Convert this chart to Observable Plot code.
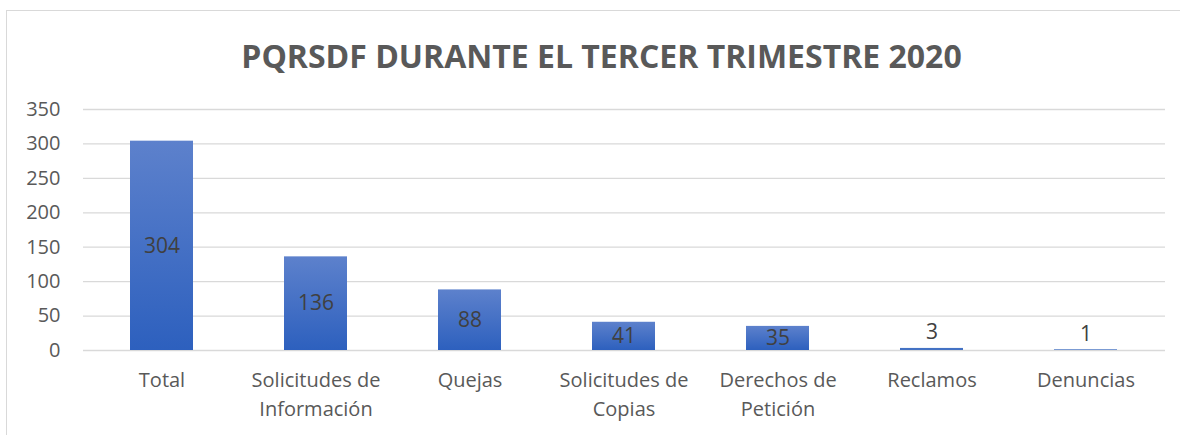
<!DOCTYPE html>
<html>
<head>
<meta charset="utf-8">
<script src="https://cdn.jsdelivr.net/npm/d3@7"></script>
<script src="https://cdn.jsdelivr.net/npm/@observablehq/plot@0.6"></script>
<style>
  html, body { margin: 0; padding: 0; background: #fff; }
  #wrap { position: relative; width: 1180px; height: 435px; overflow: hidden; font-family: "Open Sans", sans-serif; }
  #frame { position: absolute; left: 6px; top: 10px; width: 1200px; height: 500px; border-left: 1.5px solid #d9d9d9; border-top: 1.5px solid #d9d9d9; }
  #title { position: absolute; left: 0; top: 0; width: 1203px; height: 90px; line-height: 112px; text-align: center; font-size: 32px; font-weight: 700; color: #595959; }
  #chart { position: absolute; left: 0; top: 90px; }
</style>
</head>
<body>
<div id="wrap">
  <div id="frame"></div>
  <div id="title">PQRSDF DURANTE EL TERCER TRIMESTRE 2020</div>
  <div id="chart"></div>
</div>
<script>
const categories = ["Total", "Solicitudes de Información", "Quejas", "Solicitudes de Copias", "Derechos de Petición", "Reclamos", "Denuncias"];
const tickLabels = ["Total", "Solicitudes de\nInformación", "Quejas", "Solicitudes de\nCopias", "Derechos de\nPetición", "Reclamos", "Denuncias"];
const values = [304, 136, 88, 41, 35, 3, 1];
const yTicks = [0, 50, 100, 150, 200, 250, 300, 350];

const data = categories.map((c, i) => ({cat: c, label: tickLabels[i], value: values[i]}));
const labelOf = new Map(data.map(d => [d.cat, d.label]));

const defs = () => {
  const d = d3.create("svg:defs");
  const g = d.append("linearGradient").attr("id", "barGrad").attr("x1", 0).attr("y1", 0).attr("x2", 0).attr("y2", 1);
  g.append("stop").attr("offset", "0%").attr("stop-color", "#5d81cc");
  g.append("stop").attr("offset", "100%").attr("stop-color", "#2d60be");
  const f = d.append("filter").attr("id", "shadow").attr("x", "-20%").attr("y", "-20%").attr("width", "140%").attr("height", "140%");
  f.append("feDropShadow").attr("dx", 1.5).attr("dy", 1.5).attr("stdDeviation", 1.5).attr("flood-color", "#000").attr("flood-opacity", 0.25);
  return d.node();
};

const chart = Plot.plot({
  width: 1180,
  height: 345,
  marginTop: 19,
  marginBottom: 85,
  marginLeft: 83,
  marginRight: 15,
  style: {fontFamily: "'Open Sans', sans-serif", color: "#595959", background: "transparent", overflow: "visible"},
  x: {domain: categories, paddingInner: 0.59, paddingOuter: 0.295, align: 0.5},
  y: {domain: [0, 350], ticks: yTicks},
  marks: [
    defs,
    Plot.gridY(yTicks, {stroke: "#d9d9d9", strokeOpacity: 1, strokeWidth: 1.3}),
    Plot.axisY(yTicks, {tickSize: 0, tickPadding: 23, fontSize: 20, label: null, fill: "#595959"}),
    Plot.axisX({tickSize: 0, tickPadding: 16, fontSize: 20, lineHeight: 1.45, label: null, fill: "#595959", tickFormat: d => labelOf.get(d)}),
    Plot.barY(data, {x: "cat", y: "value", fill: "url(#barGrad)", filter: d => d.value >= 5, style: "filter: url(#shadow)"}),
    Plot.barY(data, {x: "cat", y: "value", fill: "#4472c4", filter: d => d.value < 5}),
    Plot.text(data.filter(d => d.value >= 20), {x: "cat", y: d => d.value / 2, text: d => String(d.value), fontSize: 21, fill: "#404040"}),
    Plot.text(data.filter(d => d.value < 20), {x: "cat", y: "value", dy: -16, text: d => String(d.value), fontSize: 21, fill: "#404040"})
  ]
});
document.getElementById("chart").appendChild(chart);
</script>
</body>
</html>
